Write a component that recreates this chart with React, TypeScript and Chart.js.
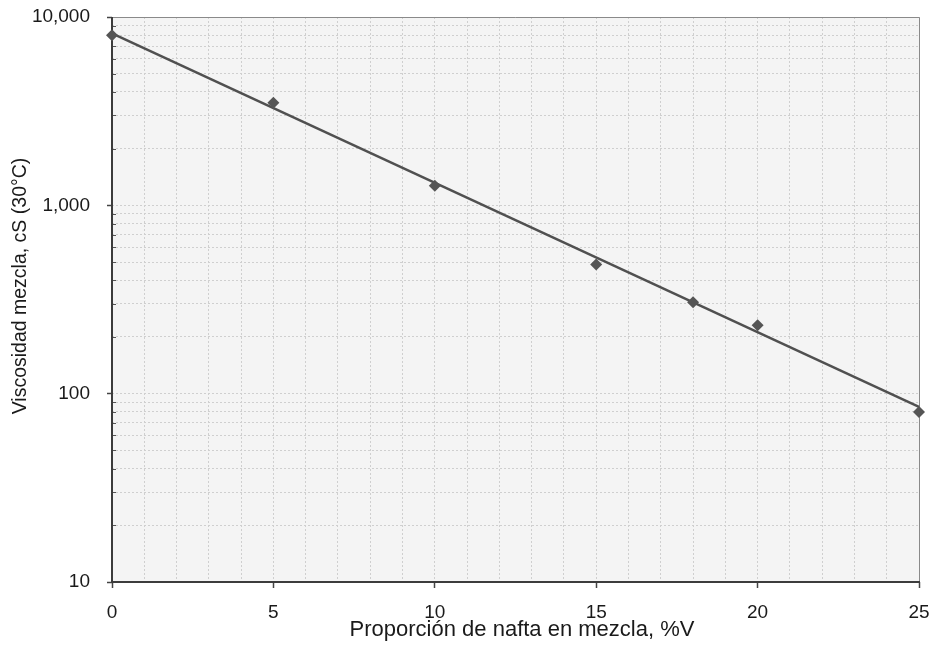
import React, { useEffect, useRef } from "react";
import { Chart, registerables } from "chart.js";

Chart.register(...registerables);

// ---- data ----
const naftaPct = [0, 5, 10, 15, 18, 20, 25];
const viscosity = [8000, 3500, 1270, 485, 306, 231, 80];
const trendX = [0, 25];
const trendY = [8190, 85];

const xTickLabels = [0, 5, 10, 15, 20, 25];
const yMajorTicks = [10, 100, 1000, 10000];
const yMinorMultipliers = [2, 3, 4, 5, 6, 7, 8, 9];

const xTitle = "Proporción de nafta en mezcla, %V";
const yTitle = "Viscosidad mezcla, cS (30°C)";

const FONT = "'Liberation Sans', Arial, Helvetica, sans-serif";

const yAllTicks: number[] = [];
yMajorTicks.forEach((m, i) => {
  yAllTicks.push(m);
  if (i < yMajorTicks.length - 1) yMinorMultipliers.forEach((k) => yAllTicks.push(m * k));
});

const decorPlugin = {
  id: "decor",
  beforeDraw(chart: any) {
    const { ctx, chartArea: a } = chart;
    ctx.save();
    ctx.fillStyle = "#f4f4f4";
    ctx.fillRect(a.left, a.top, a.right - a.left, a.bottom - a.top);
    ctx.restore();
  },
  beforeDatasetsDraw(chart: any) {
    const { ctx, chartArea: a } = chart;
    const ys = chart.scales.y;
    ctx.save();
    // frame
    ctx.strokeStyle = "#8a8a8a";
    ctx.lineWidth = 1;
    ctx.beginPath();
    ctx.moveTo(a.left, a.top + 0.5);
    ctx.lineTo(a.right + 0.5, a.top + 0.5);
    ctx.lineTo(a.right + 0.5, a.bottom);
    ctx.stroke();
    // minor inner ticks on y axis
    ctx.strokeStyle = "#555";
    ctx.lineWidth = 1;
    yAllTicks.forEach((v) => {
      if (yMajorTicks.includes(v)) return;
      const p = Math.round(ys.getPixelForValue(v)) + 0.5;
      ctx.beginPath();
      ctx.moveTo(a.left, p);
      ctx.lineTo(a.left + 4, p);
      ctx.stroke();
    });
    // left & bottom axis lines
    ctx.strokeStyle = "#3c3c3c";
    ctx.lineWidth = 2;
    ctx.beginPath();
    ctx.moveTo(a.left, a.top);
    ctx.lineTo(a.left, a.bottom);
    ctx.lineTo(a.right + 1, a.bottom);
    ctx.stroke();
    ctx.restore();
  },
  afterDraw(chart: any) {
    const { ctx } = chart;
    ctx.save();
    ctx.fillStyle = "#1a1a1a";
    ctx.textAlign = "center";
    ctx.textBaseline = "middle";
    ctx.font = `22px ${FONT}`;
    ctx.fillText(xTitle, 522, 630);
    ctx.translate(21, 286);
    ctx.rotate(-Math.PI / 2);
    ctx.font = `19.5px ${FONT}`;
    ctx.fillText(yTitle, 0, 0);
    ctx.restore();
  },
};

export default function App() {
  const ref = useRef<HTMLCanvasElement | null>(null);

  useEffect(() => {
    if (!ref.current) return;
    const chart = new Chart(ref.current, {
      type: "scatter",
      data: {
        datasets: [
          {
            label: "Datos",
            data: naftaPct.map((x, i) => ({ x, y: viscosity[i] })),
            pointStyle: "rectRot",
            pointRadius: 6,
            backgroundColor: "#555555",
            borderColor: "#555555",
            borderWidth: 0,
            showLine: false,
            order: 0,
            clip: false,
          },
          {
            label: "Tendencia",
            data: trendX.map((x, i) => ({ x, y: trendY[i] })),
            showLine: true,
            pointRadius: 0,
            borderColor: "#505050",
            borderWidth: 2.5,
            order: 1,
            clip: false,
          },
        ],
      },
      options: {
        animation: false,
        responsive: false,
        devicePixelRatio: 1,
        layout: { padding: { left: 0, right: 14, top: 17, bottom: 0 } },
        plugins: { legend: { display: false }, tooltip: { enabled: false } },
        scales: {
          x: {
            type: "linear",
            min: 0,
            max: 25,
            afterFit: (s: any) => {
              s.height = 63;
              s.paddingLeft = 0;
              s.paddingRight = 0;
            },
            ticks: {
              stepSize: 1,
              autoSkip: false,
              maxRotation: 0,
              padding: 13,
              color: "#1a1a1a",
              font: { family: FONT, size: 19 },
              callback: (v: any) => (xTickLabels.includes(Number(v)) ? String(v) : ""),
            },
            grid: {
              color: "#cfcfcf",
              lineWidth: 1,
              tickLength: 6,
              tickColor: (c: any) =>
                c.tick && xTickLabels.includes(c.tick.value) ? "#444" : "rgba(0,0,0,0)",
              tickWidth: 1.5,
            },
            border: { display: false, dash: [2, 2] },
          },
          y: {
            type: "logarithmic",
            min: 10,
            max: 10000,
            afterFit: (s: any) => {
              s.width = 112;
              s.paddingTop = 0;
              s.paddingBottom = 0;
            },
            afterBuildTicks: (s: any) => {
              s.ticks = yAllTicks.map((v) => ({ value: v, major: yMajorTicks.includes(v) }));
            },
            ticks: {
              autoSkip: false,
              padding: 17,
              color: "#1a1a1a",
              font: { family: FONT, size: 19 },
              callback: (v: any) =>
                yMajorTicks.includes(Number(v)) ? Number(v).toLocaleString("en-US") : "",
            },
            grid: {
              color: "#cfcfcf",
              lineWidth: 1,
              tickLength: 5,
              tickColor: (c: any) =>
                c.tick && yMajorTicks.includes(c.tick.value) ? "#444" : "rgba(0,0,0,0)",
              tickWidth: 1.5,
            },
            border: { display: false, dash: [2, 2] },
          },
        },
      },
      plugins: [decorPlugin],
    });
    return () => chart.destroy();
  }, []);

  return (
    <div style={{ position: "fixed", left: 0, top: 0, width: 933, height: 645, background: "#fff" }}>
      <canvas ref={ref} width={933} height={645} style={{ width: 933, height: 645 }} />
    </div>
  );
}
